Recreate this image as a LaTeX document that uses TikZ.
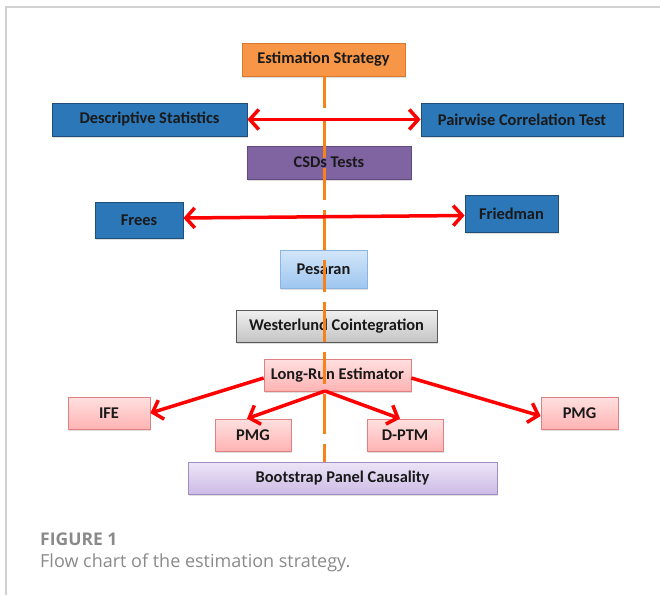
\documentclass[tikz,border=0pt]{standalone}
\usepackage{fontspec}
\setmainfont{Carlito}
\newfontfamily\capfont{Open Sans}
\usetikzlibrary{arrows.meta,shadows}
\definecolor{orfill}{HTML}{F79646}
\definecolor{ordraw}{HTML}{D9782E}
\definecolor{bluefill}{HTML}{2B77B8}
\definecolor{bluedraw}{HTML}{1F4E79}
\definecolor{purfill}{HTML}{8064A2}
\definecolor{purdraw}{HTML}{5F4B7D}
\definecolor{pesA}{HTML}{D3E6FA}
\definecolor{pesB}{HTML}{9EC6F0}
\definecolor{pesdraw}{HTML}{8DB3E2}
\definecolor{grayA}{HTML}{F0F0F0}
\definecolor{grayB}{HTML}{C4C4C4}
\definecolor{pinkA}{HTML}{FFE0E0}
\definecolor{pinkB}{HTML}{FFB3B3}
\definecolor{pinkdraw}{HTML}{E08080}
\definecolor{lavA}{HTML}{EDE5F7}
\definecolor{lavB}{HTML}{CDBBE5}
\definecolor{lavdraw}{HTML}{A08CC4}
\definecolor{dashor}{HTML}{F7821A}
\definecolor{capgray}{HTML}{8A8A8A}
\tikzset{
  box/.style={rectangle, inner sep=0pt, font=\bfseries\fontsize{16.4}{18}\selectfont, text=black!90,
    line width=0.8pt, drop shadow={shadow xshift=1.2pt, shadow yshift=-1.5pt, opacity=0.25}},
  orbox/.style={box, fill=orfill, draw=ordraw},
  bluebox/.style={box, fill=bluefill, draw=bluedraw},
  purbox/.style={box, fill=purfill, draw=purdraw},
  pesbox/.style={box, top color=pesA, bottom color=pesB, draw=pesdraw},
  graybox/.style={box, top color=grayA, bottom color=grayB, draw=black!65},
  pinkbox/.style={box, top color=pinkA, bottom color=pinkB, draw=pinkdraw},
  lavbox/.style={box, top color=lavA, bottom color=lavB, draw=lavdraw},
  barb/.tip={Straight Barb[length=9pt,width=20pt,line width=3.5pt]},
  redarr/.style={draw=red, line width=3.5pt, -barb},
  redboth/.style={draw=red, line width=3.5pt, barb-barb},
  trunk/.style={draw=dashor, line width=3.5pt, dash pattern=on 32pt off 10pt on 40pt off 10pt}
}
\begin{document}
\begin{tikzpicture}[x=1pt,y=-1pt]
\useasboundingbox (0,0) rectangle (660,595);
\fill[white] (0,0) rectangle (660,595);
\draw[black!18, line width=1.2pt] (6,595) -- (6,7) -- (660,7);

\node[orbox, minimum width=163pt, minimum height=33pt] (es) at (323.5,59.5) {Estimation Strategy};
\node[bluebox, minimum width=195pt, minimum height=33pt] (ds) at (149.5,119.5) {Descriptive Statistics};
\node[bluebox, minimum width=202pt, minimum height=33pt] (pc) at (522,119.5) {Pairwise Correlation Test};
\node[purbox, minimum width=164pt, minimum height=33pt] (csd) at (329,162.5) {CSDs Tests};
\node[bluebox, minimum width=88pt, minimum height=36pt] (frees) at (139,220) {Frees};
\node[bluebox, minimum width=93pt, minimum height=37pt] (fried) at (511.5,213.5) {Friedman};
\node[pesbox, minimum width=87pt, minimum height=38pt] (pes) at (323.5,269) {Pesaran};
\node[graybox, minimum width=201pt, minimum height=32pt] (wes) at (336.5,326) {Westerlund Cointegration};
\node[pinkbox, minimum width=147pt, minimum height=32pt] (lr) at (337.5,375) {Long-Run Estimator};
\node[pinkbox, minimum width=82pt, minimum height=32pt] (ife) at (109,413) {IFE};
\node[pinkbox, minimum width=76pt, minimum height=32pt] (pmga) at (253,435) {PMG};
\node[pinkbox, minimum width=76pt, minimum height=32pt] (dptm) at (405,435) {D-PTM};
\node[pinkbox, minimum width=77pt, minimum height=32pt] (pmgb) at (579.5,413) {PMG};
\node[lavbox, minimum width=309pt, minimum height=32pt] (boot) at (342.5,478) {Bootstrap Panel Causality};

\coordinate (ttop) at (324.5,76);
\coordinate (tbot) at (324.5,462);
\draw[trunk] (ttop) -- (tbot);

\draw[redboth] (ds.east) -- (pc.west);
\draw[redboth] ([yshift=2pt]frees.east) -- ([yshift=-2pt]fried.west);
\coordinate (lrb) at (325,391);
\draw[redarr] ([yshift=-3pt]lr.west) -- (ife.east);
\draw[redarr] ([yshift=-3pt]lr.east) -- ([yshift=-3pt]pmgb.west);
\draw[redarr] (lrb) -- ([xshift=-6pt]pmga.north);
\draw[redarr] (lrb) -- ([xshift=-5pt]dptm.north);

\node[anchor=base west, inner sep=0pt, text=capgray, font=\capfont\fontsize{17.5}{20}\selectfont\bfseries] (fig) at (40,545) {FIGURE 1};
\node[anchor=base west, inner sep=0pt, text=capgray, font=\capfont\fontsize{18}{20}\selectfont] (cap) at (40,567) {Flow chart of the estimation strategy.};
\end{tikzpicture}
\end{document}
